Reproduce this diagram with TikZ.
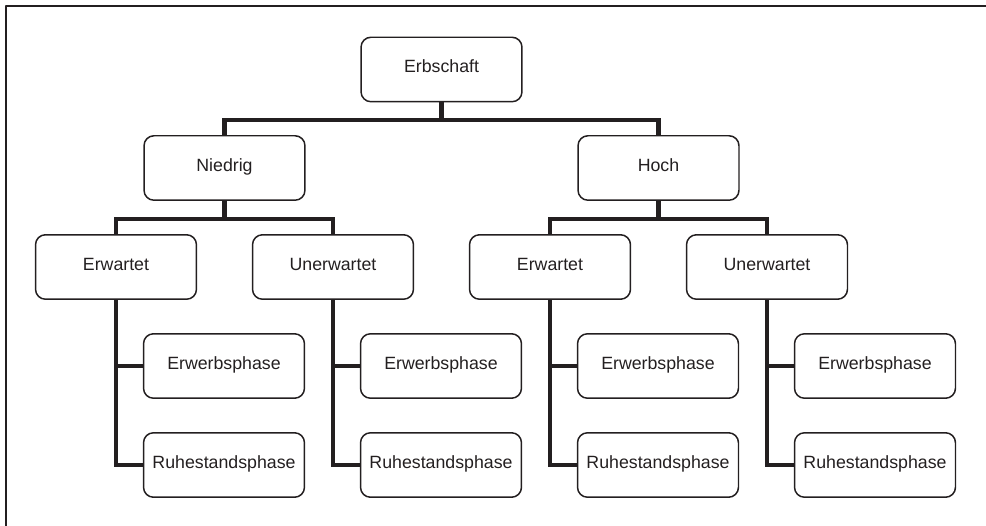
\documentclass[tikz,border=0pt]{standalone}
\usepackage{fontspec}
\setmainfont{Liberation Sans}
\usepackage{tikz}

\definecolor{ink}{RGB}{35,31,32}

\begin{document}
\begin{tikzpicture}[line cap=round,line join=round,x=0.02cm,y=-0.02cm,
    box/.style={draw=ink,line width=0.85pt,rounded corners=0.2cm,
        minimum width=3.22cm,minimum height=1.29cm,inner sep=0pt,
        text height=7.5pt,text depth=3.7pt,text=ink,
        font=\fontsize{10.1}{12}\selectfont},
    conn/.style={draw=ink,line width=2.3pt,line cap=butt,line join=miter}]
        \useasboundingbox (0,0) rectangle (986,526);
        \draw [draw=ink,line width=1.1pt,line cap=butt] (6,526) -- (6,6) -- (986,6);
        % top levels
        \node [box] (erb) at (441.5,69.5) {Erbschaft};
        \node [box] (nied) at (224.5,168) {Niedrig};
        \node [box] (hoch) at (658.5,168) {Hoch};
        % third level
        \node [box] (ne) at (116,267) {Erwartet};
        \node [box] (nu) at (333,267) {Unerwartet};
        \node [box] (he) at (550,267) {Erwartet};
        \node [box] (hu) at (767,267) {Unerwartet};
        % phases
        \node [box] (new) at (224,366) {Erwerbsphase};
        \node [box] (ner) at (224,465) {Ruhestandsphase};
        \node [box] (nuw) at (441,366) {Erwerbsphase};
        \node [box] (nur) at (441,465) {Ruhestandsphase};
        \node [box] (hew) at (658,366) {Erwerbsphase};
        \node [box] (her) at (658,465) {Ruhestandsphase};
        \node [box] (huw) at (875,366) {Erwerbsphase};
        \node [box] (hur) at (875,465) {Ruhestandsphase};
        % connectors
        \draw [conn] (erb.south) -- ++(0,17.5) -| (nied.north);
        \draw [conn] (erb.south) -- ++(0,17.5) -| (hoch.north);
        \draw [conn] (nied.south) -- ++(0,18) -| (ne.north);
        \draw [conn] (nied.south) -- ++(0,18) -| (nu.north);
        \draw [conn] (hoch.south) -- ++(0,18) -| (he.north);
        \draw [conn] (hoch.south) -- ++(0,18) -| (hu.north);
        \draw [conn] (ne.south) |- (new.west);
        \draw [conn] (ne.south) |- (ner.west);
        \draw [conn] (nu.south) |- (nuw.west);
        \draw [conn] (nu.south) |- (nur.west);
        \draw [conn] (he.south) |- (hew.west);
        \draw [conn] (he.south) |- (her.west);
        \draw [conn] (hu.south) |- (huw.west);
        \draw [conn] (hu.south) |- (hur.west);
    \end{tikzpicture}
\end{document}
